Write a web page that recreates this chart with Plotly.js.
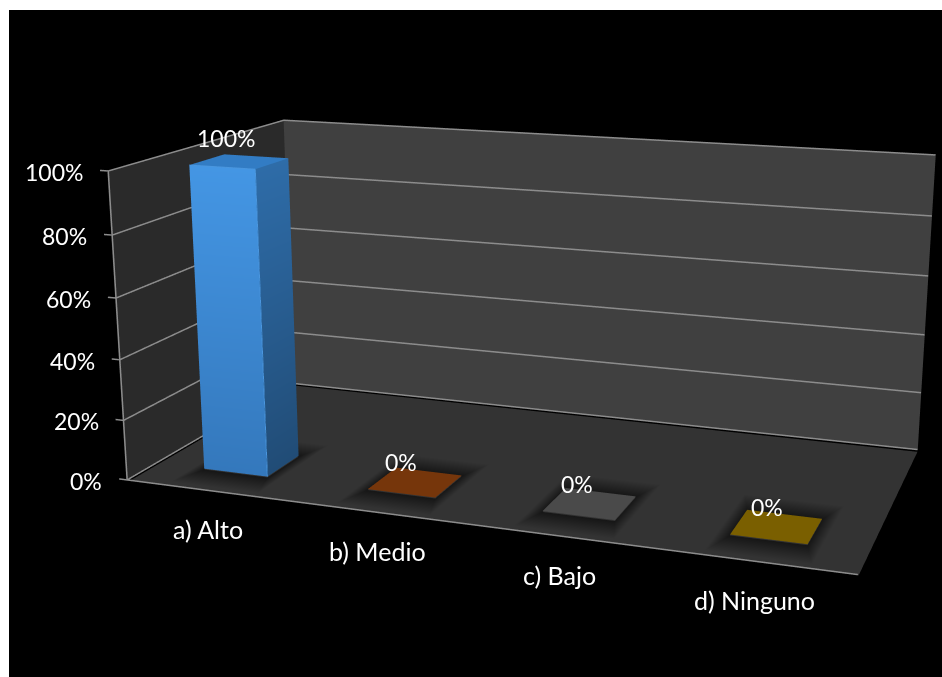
<!DOCTYPE html>
<html>
<head>
<meta charset="utf-8">
<script src="https://cdn.plot.ly/plotly-3.0.1.min.js"></script>
<style>
  html, body { margin: 0; padding: 0; background: #fff; width: 942px; height: 677px; overflow: hidden; }
  #frame { position: absolute; left: 9px; top: 10px; width: 933px; height: 667px; overflow: hidden; background: #000; }
  #chart { position: absolute; left: -9px; top: -406px; width: 1044px; height: 1504px; }
</style>
</head>
<body>
<div id="frame"><div id="chart"></div></div>
<script>
// Survey result: share of answers per level
const categorias = ['a) Alto', 'b) Medio', 'c) Bajo', 'd) Ninguno'];
const valores = [100, 0, 0, 0];
const marcas = [0, 20, 40, 60, 80, 100];

// Bar appearance: front top, front bottom, side top, side bottom, cap
const tonos = [
  ['rgb(68,150,228)', 'rgb(52,120,188)', 'rgb(46,108,168)', 'rgb(33,76,118)', 'rgb(50,124,196)'],
  ['rgb(118,54,11)', 'rgb(118,54,11)', 'rgb(90,42,9)', 'rgb(90,42,9)', 'rgb(118,54,11)'],
  ['rgb(74,74,74)', 'rgb(74,74,74)', 'rgb(58,58,58)', 'rgb(58,58,58)', 'rgb(74,74,74)'],
  ['rgb(122,95,0)', 'rgb(122,95,0)', 'rgb(95,74,0)', 'rgb(95,74,0)', 'rgb(122,95,0)']
];
const desplazaEtiqueta = [-13, -14, -13, -10];

// Box proportions (world units) and camera pose relative to the front-left floor corner
const escala = 2.4876;
const anchoTotal = 0.4020 * escala, fondoTotal = 0.2014 * escala, altoTotal = 0.1717 * escala;
const rangoX = [-0.56, 3.52], rangoY = [-0.01, 1.01], rangoZ = [-1, 101];
const xMin = -0.5, xMax = 3.5, medioAncho = 0.197, yFrente = 0.155, yFondo = 0.345;

const porX = anchoTotal / 4, porY = fondoTotal, porZ = altoTotal / 100;
const aspecto = {
  x: (rangoX[1] - rangoX[0]) * porX,
  y: (rangoY[1] - rangoY[0]) * porY,
  z: (rangoZ[1] - rangoZ[0]) * porZ
};
const centroCaja = [
  ((rangoX[0] + rangoX[1]) / 2 - xMin) * porX,
  ((rangoY[0] + rangoY[1]) / 2) * porY,
  ((rangoZ[0] + rangoZ[1]) / 2) * porZ
];
const ojoMundo = [0.5256 * escala, -0.8158 * escala, 0.3318 * escala];
const adelante = [-0.3272, 0.9067, -0.2660];
const ojo = ojoMundo.map((v, i) => v - centroCaja[i]);
const mira = ojo.map((v, i) => v + adelante[i] * 2.3);

const plano = { ambient: 1, diffuse: 0, specular: 0, roughness: 1, fresnel: 0 };
const colorPiso = 'rgb(51,51,51)';

function cuad(p, colores, nombre) {
  // p: four corners in order; one or four colours
  const vc = colores.length === 1 ? [colores[0], colores[0], colores[0], colores[0]] : colores;
  return {
    type: 'mesh3d', name: nombre,
    x: p.map(q => q[0]), y: p.map(q => q[1]), z: p.map(q => q[2]),
    i: [0, 0], j: [1, 2], k: [2, 3],
    vertexcolor: vc, lighting: plano, flatshading: false, hoverinfo: 'skip', showscale: false
  };
}

function linea(puntos, color, ancho) {
  return {
    type: 'scatter3d', mode: 'lines',
    x: puntos.map(q => q[0]), y: puntos.map(q => q[1]), z: puntos.map(q => q[2]),
    line: { color: color || 'rgb(140,140,140)', width: ancho || 3 }, hoverinfo: 'skip', showlegend: false
  };
}

// Dark halo around a bar footprint, blending out into the floor colour
function halo(a, b, c, d, z) {
  const ex = 0.07, ey = 0.12;
  const esquinas = [
    [a, c, z], [b, c, z], [b, d, z], [a, d, z],
    [a - ex, c - ey, z], [b + ex, c - ey, z], [b + ex, d + ey, z], [a - ex, d + ey, z]
  ];
  const i = [], j = [], k = [];
  for (let s = 0; s < 4; s++) {
    const t = (s + 1) % 4;
    i.push(s, t); j.push(t, 4 + t); k.push(4 + s, 4 + s);
  }
  return {
    type: 'mesh3d', name: 'sombra',
    x: esquinas.map(q => q[0]), y: esquinas.map(q => q[1]), z: esquinas.map(q => q[2]),
    i, j, k,
    vertexcolor: esquinas.map((q, n) => n < 4 ? 'rgb(22,22,22)' : colorPiso),
    lighting: plano, hoverinfo: 'skip', showscale: false
  };
}

const trazas = [];
// Floor and walls, set just behind the grid lines
const zPiso = -0.8, xPared = xMin - 0.006, yPared = 1.004;
trazas.push(cuad([[xMin, 0.012, zPiso], [xMax, 0.012, zPiso], [xMax, 1, zPiso], [xMin, 1, zPiso]], [colorPiso], 'piso'));
trazas.push(cuad([[xPared, 0, 0], [xPared, yPared, 0], [xPared, yPared, 100], [xPared, 0, 100]], ['rgb(42,42,42)'], 'pared izquierda'));
trazas.push(cuad([[xPared, yPared, 0], [xMax, yPared, 0], [xMax, yPared, 100], [xPared, yPared, 100]], ['rgb(64,64,64)'], 'pared fondo'));

// Grid lines with their tick stubs
marcas.forEach(m => {
  trazas.push(linea([[xMin - 0.05, 0, m], [xMin, 0, m], [xMin, 1, m], [xMax, 1, m]]));
});
trazas.push(linea([[xMin, 0, 0], [xMin, 0, 100]]));
trazas.push(linea([[xMin, 0, 0], [xMax, 0, 0]]));

valores.forEach((v, n) => {
  trazas.push(halo(n - medioAncho, n + medioAncho, yFrente, yFondo, -0.3));
});

// Bars
valores.forEach((v, n) => {
  const a = n - medioAncho, b = n + medioAncho, t = tonos[n];
  trazas.push(cuad([[a, yFrente, v], [b, yFrente, v], [b, yFondo, v], [a, yFondo, v]], [t[4]], categorias[n] + ' tapa'));
  if (v > 0) {
    trazas.push(cuad([[a, yFrente, 0], [b, yFrente, 0], [b, yFrente, v], [a, yFrente, v]], [t[1], t[1], t[0], t[0]], categorias[n]));
    trazas.push(cuad([[b, yFrente, 0], [b, yFondo, 0], [b, yFondo, v], [b, yFrente, v]], [t[3], t[3], t[2], t[2]], categorias[n] + ' lado'));
    // Lit bevel along the front edges
    trazas.push(linea([[a, yFrente, v], [b, yFrente, v], [b, yFrente, 0]], 'rgb(74,150,222)', 2));
  }
});

const fuente = tam => ({ family: 'Lato, "Open Sans", sans-serif', color: '#ffffff', size: tam });
const etiquetas = [];
marcas.forEach(m => etiquetas.push({
  x: xMin, y: 0, z: m, text: m + '%', showarrow: false, xanchor: 'right', xshift: -23, yshift: -1, font: fuente(23)
}));
categorias.forEach((c, n) => etiquetas.push({
  x: n, y: 0, z: 0, text: c, showarrow: false, yshift: -39, font: fuente(25)
}));
valores.forEach((v, n) => etiquetas.push({
  x: n, y: (yFrente + yFondo) / 2, z: v, text: v + '%', showarrow: false, xshift: desplazaEtiqueta[n], yshift: v > 0 ? 24 : 20, font: fuente(23)
}));

const ejeOculto = r => ({ range: r, autorange: false, visible: false, showspikes: false });

Plotly.newPlot('chart', trazas, {
  width: 1044, height: 1504,
  margin: { l: 0, r: 0, t: 0, b: 0 },
  paper_bgcolor: '#000', showlegend: false,
  scene: {
    domain: { x: [0, 1], y: [0, 1] },
    bgcolor: '#000',
    xaxis: ejeOculto(rangoX), yaxis: ejeOculto(rangoY), zaxis: ejeOculto(rangoZ),
    aspectmode: 'manual', aspectratio: aspecto,
    camera: {
      eye: { x: ojo[0], y: ojo[1], z: ojo[2] },
      center: { x: mira[0], y: mira[1], z: mira[2] },
      up: { x: 0, y: 0, z: 1 },
      projection: { type: 'perspective' }
    },
    annotations: etiquetas
  }
}, { displayModeBar: false });
</script>
</body>
</html>
